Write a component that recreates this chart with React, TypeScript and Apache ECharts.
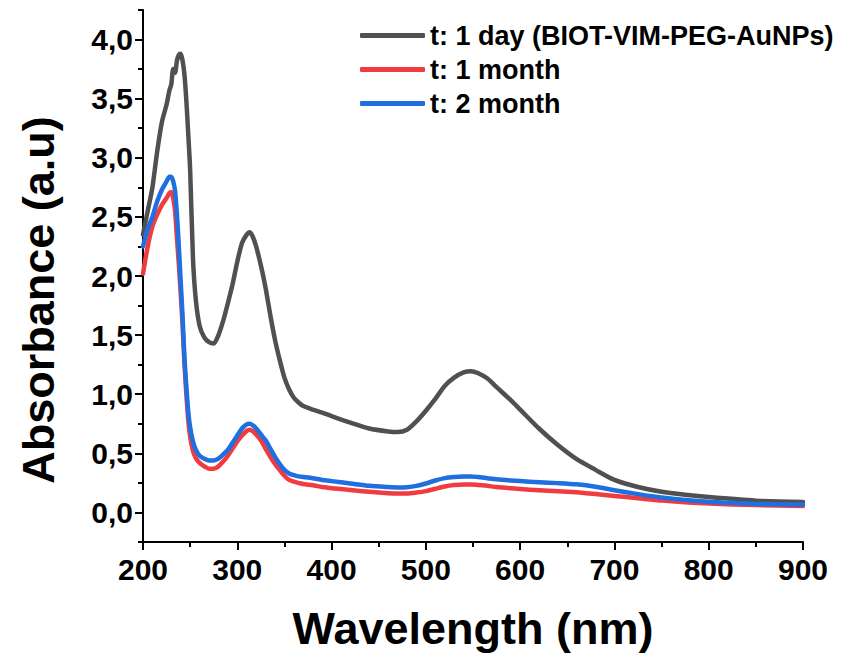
import React, { useEffect, useRef } from "react";
import * as echarts from "echarts";

const wavelengths = [
  200, 205, 210, 215, 220, 225, 228, 230, 232, 234, 236, 238, 240, 242, 244, 246, 248, 250, 253, 256,
  260, 265, 270, 275, 280, 285, 290, 295, 300, 305, 310, 313, 316, 320, 325, 330, 335, 340, 345, 350,
  355, 360, 365, 370, 380, 390, 400, 420, 440, 460, 470, 480, 490, 500, 510, 520, 530, 540, 548, 555,
  565, 575, 590, 600, 620, 640, 660, 680, 700, 725, 750, 775, 800, 850, 900,
];

const day1 = [
  2.35, 2.55, 2.75, 3.05, 3.3, 3.45, 3.57, 3.62, 3.75, 3.72, 3.82, 3.87, 3.88, 3.82, 3.7, 3.48, 3.2, 2.9, 2.15, 1.8,
  1.58, 1.48, 1.44, 1.43, 1.5, 1.62, 1.77, 1.93, 2.12, 2.28, 2.35, 2.37, 2.34, 2.25, 2.09, 1.9, 1.67, 1.46, 1.29, 1.14,
  1.04, 0.97, 0.93, 0.9, 0.87, 0.845, 0.815, 0.76, 0.71, 0.685, 0.68, 0.7, 0.77, 0.86, 0.96, 1.07, 1.14, 1.185, 1.195, 1.18,
  1.135, 1.06, 0.95, 0.87, 0.71, 0.57, 0.45, 0.36, 0.275, 0.215, 0.175, 0.15, 0.13, 0.1, 0.088,
];

const month1 = [
  2.02, 2.25, 2.42, 2.52, 2.6, 2.66, 2.7, 2.71, 2.66, 2.55, 2.32, 2.1, 1.85, 1.58, 1.25, 1.0, 0.78, 0.64, 0.52, 0.46,
  0.42, 0.39, 0.37, 0.37, 0.39, 0.43, 0.48, 0.54, 0.6, 0.65, 0.69, 0.7, 0.69, 0.66, 0.61, 0.54, 0.47, 0.41, 0.36, 0.31,
  0.275, 0.26, 0.25, 0.24, 0.23, 0.215, 0.205, 0.19, 0.175, 0.163, 0.16, 0.16, 0.168, 0.18, 0.2, 0.22, 0.232, 0.237, 0.237, 0.233,
  0.225, 0.215, 0.205, 0.198, 0.188, 0.18, 0.17, 0.156, 0.14, 0.12, 0.1, 0.086, 0.075, 0.062, 0.055,
];

const month2 = [
  2.25, 2.4, 2.5, 2.63, 2.73, 2.8, 2.84, 2.84, 2.8, 2.72, 2.52, 2.25, 1.95, 1.65, 1.3, 1.06, 0.85, 0.72, 0.6, 0.53,
  0.48, 0.455, 0.44, 0.44, 0.455, 0.49, 0.53, 0.59, 0.65, 0.71, 0.745, 0.75, 0.74, 0.71, 0.66, 0.61, 0.54, 0.47, 0.41, 0.36,
  0.33, 0.315, 0.305, 0.3, 0.29, 0.275, 0.265, 0.245, 0.225, 0.215, 0.212, 0.214, 0.225, 0.245, 0.27, 0.29, 0.3, 0.305, 0.305, 0.3,
  0.29, 0.28, 0.27, 0.265, 0.255, 0.248, 0.238, 0.218, 0.188, 0.155, 0.126, 0.105, 0.09, 0.072, 0.065,
];

const seriesNames = ["t: 1 day (BIOT-VIM-PEG-AuNPs)", "t: 1 month", "t: 2 month"];
const seriesColors = ["#505050", "#F03C40", "#1E6FDF"];
const seriesValues = [day1, month1, month2];

const xTitle = "Wavelength (nm)";
const yTitle = "Absorbance (a.u)";

const X_MIN = 200;
const X_MAX = 900;
const X_STEP = 100;
const Y_MIN = -0.25;
const Y_MAX = 4.25;
const Y_MINOR_STEP = 0.25;
const Y_STEP = 0.5;
const Y_LABEL_MIN = 0;
const Y_LABEL_MAX = 4;

const FONT = "'Liberation Sans', Arial, sans-serif";

export default function App() {
  const ref = useRef<HTMLDivElement>(null);

  useEffect(() => {
    if (!ref.current) return;
    const chart = echarts.init(ref.current, null, { renderer: "svg" });

    const H = 661;
    const left = 143;
    const right = 40;
    const top = 10;
    const bottom = 119;
    const plotH = H - top - bottom;
    const pxPerUnit = plotH / (Y_MAX - Y_MIN);
    const top2 = top + (Y_MAX - Y_LABEL_MAX) * pxPerUnit;
    const bottom2 = bottom + (Y_LABEL_MIN - Y_MIN) * pxPerUnit;

    const axisColor = "#000";

    chart.setOption({
      animation: false,
      backgroundColor: "#fff",
      textStyle: { fontFamily: FONT },
      grid: [
        { left, right, top, bottom, containLabel: false },
        { left, right, top: top2, bottom: bottom2, containLabel: false },
      ],
      legend: {
        left: 355,
        top: 17,
        orient: "vertical",
        icon: "roundRect",
        itemWidth: 65,
        itemHeight: 5,
        itemGap: 7,
        textStyle: {
          fontFamily: FONT,
          fontWeight: "bold",
          fontSize: 27,
          color: "#000",
          lineHeight: 27,
        },
        data: seriesNames,
      },
      graphic: [
        {
          type: "text",
          x: 38,
          y: 300,
          rotation: Math.PI / 2,
          style: {
            text: yTitle,
            fontFamily: FONT,
            fontWeight: "bold",
            fontSize: 45,
            fill: "#000",
            textAlign: "center",
            textVerticalAlign: "middle",
          },
        },
      ],
      xAxis: [
        {
          gridIndex: 0,
          type: "value",
          min: X_MIN,
          max: X_MAX,
          interval: X_STEP,
          name: xTitle,
          nameLocation: "middle",
          nameGap: 64,
          nameTextStyle: {
            fontFamily: FONT,
            fontWeight: "bold",
            fontSize: 45,
            color: "#000",
          },
          axisLine: { onZero: false, lineStyle: { color: axisColor, width: 2 } },
          axisTick: { show: true, length: 8, lineStyle: { color: axisColor, width: 2 } },
          minorTick: { show: true, splitNumber: 2, length: 5, lineStyle: { color: axisColor, width: 2 } },
          axisLabel: {
            fontFamily: FONT,
            fontWeight: "bold",
            fontSize: 30,
            color: "#000",
            margin: 12,
          },
          splitLine: { show: false },
          minorSplitLine: { show: false },
        },
        {
          gridIndex: 1,
          type: "value",
          min: X_MIN,
          max: X_MAX,
          show: false,
        },
      ],
      yAxis: [
        {
          gridIndex: 0,
          type: "value",
          min: Y_MIN,
          max: Y_MAX,
          interval: Y_MINOR_STEP,
          axisLine: { show: true, onZero: false, lineStyle: { color: axisColor, width: 2 } },
          axisTick: { show: true, length: 5, lineStyle: { color: axisColor, width: 2 } },
          axisLabel: { show: false },
          splitLine: { show: false },
        },
        {
          gridIndex: 1,
          type: "value",
          min: Y_LABEL_MIN,
          max: Y_LABEL_MAX,
          interval: Y_STEP,
          axisLine: { show: false, onZero: false },
          axisTick: { show: true, length: 8, lineStyle: { color: axisColor, width: 2 } },
          axisLabel: {
            fontFamily: FONT,
            fontWeight: "bold",
            fontSize: 30,
            color: "#000",
            margin: 10,
            formatter: (v: number) => v.toFixed(1).replace(".", ","),
          },
          splitLine: { show: false },
        },
      ],
      series: seriesNames.map((name, si) => ({
        name,
        type: "line",
        xAxisIndex: 0,
        yAxisIndex: 0,
        showSymbol: false,
        symbol: "none",
        smooth: 0.25,
        color: seriesColors[si],
        lineStyle: { color: seriesColors[si], width: 4.5, cap: "round", join: "round" },
        data: wavelengths.map((w, i) => [w, seriesValues[si][i]]),
      })),
    });

    return () => chart.dispose();
  }, []);

  return (
    <div
      ref={ref}
      style={{ position: "fixed", left: 0, top: 0, width: 843, height: 661, background: "#fff" }}
    />
  );
}
